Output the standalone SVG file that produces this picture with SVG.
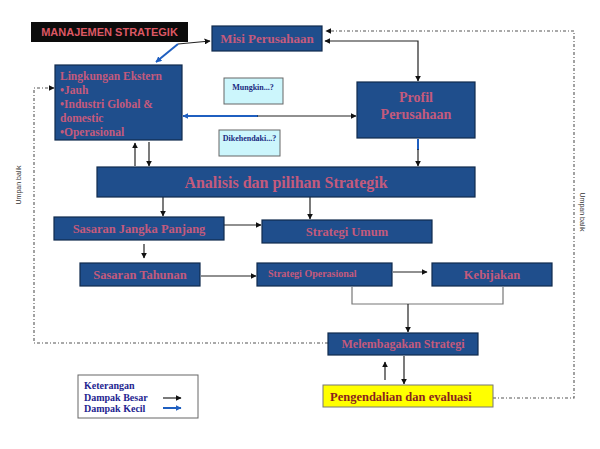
<svg xmlns="http://www.w3.org/2000/svg" width="600" height="449" viewBox="0 0 600 449">
<defs>
<marker id="ab" viewBox="0 0 10 10" refX="9" refY="5" markerWidth="6" markerHeight="6" orient="auto-start-reverse" markerUnits="userSpaceOnUse"><path d="M0,0 L10,5 L0,10 z" fill="#111"/></marker>
<marker id="abl" viewBox="0 0 10 10" refX="9" refY="5" markerWidth="6" markerHeight="6" orient="auto-start-reverse" markerUnits="userSpaceOnUse"><path d="M0,0 L10,5 L0,10 z" fill="#1f5fc0"/></marker>
<style>
.box{fill:#1f4e8c;stroke:#0f2a4d;stroke-width:1.2}
.t{font-family:"Liberation Serif","Times New Roman",serif;fill:#c45a7c;font-weight:bold}
.note{fill:#ccf6fc;stroke:#666;stroke-width:1}
.nt{font-family:"Liberation Serif",serif;font-weight:bold;font-size:8px;fill:#1a2a80}
.c{fill:none;stroke:#222;stroke-width:1.2}
.cb{fill:none;stroke:#1f5fc0;stroke-width:2}
.fb{fill:none;stroke:#555;stroke-width:1.1;stroke-dasharray:3,2,1,2}
.ub{font-family:"Liberation Sans",Arial,sans-serif;font-size:7px;fill:#333}
.lg{font-family:"Liberation Serif",serif;font-weight:bold;font-size:10px;fill:#1e2590}
</style>
</defs>
<rect width="600" height="449" fill="#ffffff"/>

<g id="connectors">
<polyline class="c" points="178,44 210,41" marker-end="url(#ab)"/>
<polyline class="cb" points="178,44 156,62" marker-end="url(#abl)"/>
<polyline class="c" points="325,41 418,41 418,81" marker-start="url(#ab)" marker-end="url(#ab)"/>
<polyline class="fb" points="493,398 574,398 574,31 326,31" marker-end="url(#ab)"/>
<polyline class="fb" points="328,343 34,343 34,88 54,88" marker-end="url(#ab)"/>
<line class="cb" x1="183" y1="116" x2="258" y2="116" marker-start="url(#abl)"/>
<line class="c" x1="257" y1="116" x2="356" y2="116" marker-end="url(#ab)"/>
<line class="cb" x1="418" y1="139" x2="418" y2="150"/>
<line class="c" x1="418" y1="149" x2="418" y2="166" marker-end="url(#ab)"/>
<line class="c" x1="135" y1="166" x2="135" y2="143" marker-end="url(#ab)"/>
<line class="c" x1="149" y1="142" x2="149" y2="166" marker-end="url(#ab)"/>
<line class="c" x1="163" y1="197" x2="163" y2="216" marker-end="url(#ab)"/>
<line class="c" x1="310" y1="197" x2="310" y2="219" marker-end="url(#ab)"/>
<line class="c" x1="224" y1="225" x2="261" y2="225" marker-end="url(#ab)"/>
<line class="c" x1="144" y1="244" x2="144" y2="258" marker-end="url(#ab)"/>
<line class="c" x1="201" y1="276" x2="256" y2="276" marker-end="url(#ab)"/>
<line class="c" x1="393" y1="272" x2="427" y2="272" marker-end="url(#ab)"/>
<polyline class="c" points="352,287 352,304 503,304 503,287" style="stroke:#777"/>
<line class="c" x1="408" y1="304" x2="408" y2="332" marker-end="url(#ab)"/>
<line class="c" x1="404" y1="356" x2="404" y2="384" marker-end="url(#ab)"/>
<line class="c" x1="385" y1="380" x2="385" y2="362" marker-end="url(#ab)"/>
<text class="ub" transform="translate(21,185) rotate(-90)" text-anchor="middle">Umpan balik</text>
<text class="ub" transform="translate(580,212) rotate(90)" text-anchor="middle">Umpan balik</text>
</g>

<g id="title">
<rect x="31" y="22" width="157" height="20" fill="#0c0c0c"/>
<text x="109.5" y="36" text-anchor="middle" font-family="'Liberation Sans',Arial,sans-serif" font-weight="bold" font-size="11px" fill="#dc5864">MANAJEMEN STRATEGIK</text>
</g>

<g id="misi">
<rect class="box" x="212" y="26" width="110" height="25"/>
<text class="t" x="267" y="43" text-anchor="middle" font-size="13px">Misi Perusahaan</text>
</g>

<g id="lingkungan">
<rect class="box" x="55" y="65" width="127" height="75"/>
<text class="t" font-size="11.5px"><tspan x="60" y="80">Lingkungan Ekstern</tspan><tspan x="60" y="94">•Jauh</tspan><tspan x="60" y="108">•Industri Global &amp;</tspan><tspan x="60" y="122">domestic</tspan><tspan x="60" y="136">•Operasional</tspan></text>
</g>

<g id="mungkin">
<rect class="note" x="224" y="78" width="59" height="26"/>
<text class="nt" x="253" y="90" text-anchor="middle" font-size="8.5px">Mungkin...?</text>
</g>

<g id="dikehendaki">
<rect class="note" x="219" y="130" width="61" height="26"/>
<text class="nt" x="249.5" y="141" text-anchor="middle">Dikehendaki...?</text>
</g>

<g id="profil">
<rect class="box" x="357" y="82" width="118" height="56"/>
<text class="t" x="416" y="102" text-anchor="middle" font-size="14px">Profil</text>
<text class="t" x="416" y="119" text-anchor="middle" font-size="14px">Perusahaan</text>
</g>

<g id="analisis">
<rect class="box" x="97" y="167" width="378" height="30"/>
<text class="t" x="286" y="188" text-anchor="middle" font-size="16px">Analisis dan pilihan Strategik</text>
</g>

<g id="sasaran-jp">
<rect class="box" x="54" y="217" width="170" height="23"/>
<text class="t" x="139" y="233" text-anchor="middle" font-size="12.5px">Sasaran Jangka Panjang</text>
</g>

<g id="strategi-umum">
<rect class="box" x="262" y="220" width="170" height="23"/>
<text class="t" x="347" y="236" text-anchor="middle" font-size="12.5px">Strategi Umum</text>
</g>

<g id="sasaran-tahunan">
<rect class="box" x="80" y="263" width="120" height="23"/>
<text class="t" x="140" y="279" text-anchor="middle" font-size="12.5px">Sasaran Tahunan</text>
</g>

<g id="strategi-op">
<rect class="box" x="257" y="263" width="135" height="23"/>
<text class="t" x="268" y="277" font-size="10px">Strategi Operasional</text>
</g>

<g id="kebijakan">
<rect class="box" x="432" y="263" width="120" height="23"/>
<text class="t" x="492" y="279" text-anchor="middle" font-size="12.5px">Kebijakan</text>
</g>

<g id="melembagakan">
<rect class="box" x="328" y="333" width="150" height="22"/>
<text class="t" x="403" y="348" text-anchor="middle" font-size="12px">Melembagakan Strategi</text>
</g>

<g id="pengendalian">
<rect x="323" y="385" width="170" height="22" fill="#ffff00" stroke="#777" stroke-width="1"/>
<text x="330" y="401" font-family="'Liberation Serif',serif" font-weight="bold" font-size="12.5px" fill="#8a1f1f">Pengendalian dan evaluasi</text>
</g>

<g id="legend">
<rect x="78" y="375" width="120" height="43" fill="#fff" stroke="#666" stroke-width="1"/>
<text class="lg" x="84" y="389">Keterangan</text>
<text class="lg" x="84" y="401">Dampak Besar</text>
<text class="lg" x="84" y="412">Dampak Kecil</text>
<line class="c" x1="163" y1="398" x2="181" y2="398" marker-end="url(#ab)"/>
<line class="cb" x1="163" y1="408" x2="181" y2="408" marker-end="url(#abl)"/>
</g>
</svg>
